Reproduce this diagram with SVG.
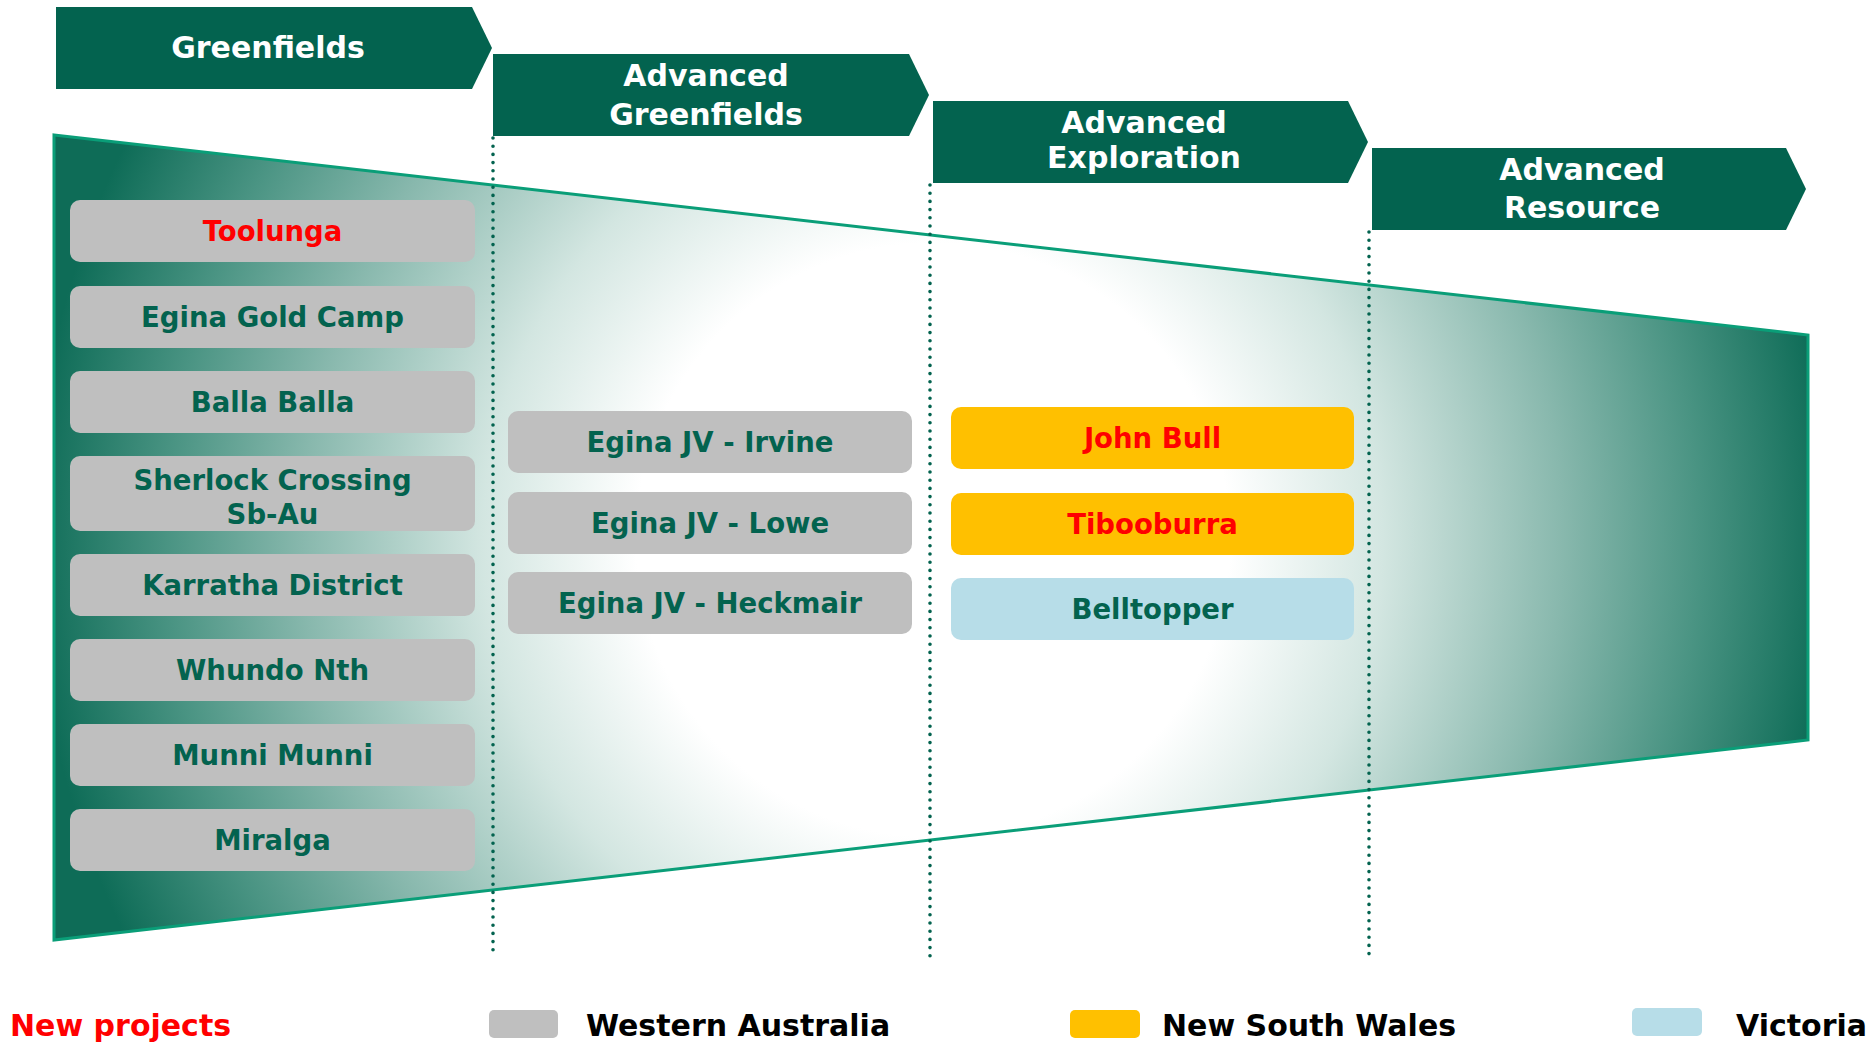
<svg xmlns="http://www.w3.org/2000/svg" width="1875" height="1043" viewBox="0 0 1875 1043">
<style>
  text { font-family: "DejaVu Sans", "Liberation Sans", sans-serif; font-weight: bold; text-anchor: middle; }
  .banner { fill: #03634F; }
  .bt { fill: #ffffff; font-size: 30px; }
  .box { rx: 10px; ry: 10px; }
  .wa { fill: #BFBFBF; }
  .nsw { fill: #FFC000; }
  .vic { fill: #B7DDE8; }
  .lbl { fill: #03634F; font-size: 27.5px; }
  .leg { fill: #000000; font-size: 30px; text-anchor: start; }
  .new { fill: #FF0000; }
  .div { stroke: #03634F; stroke-width: 3.6; stroke-linecap: round; stroke-dasharray: 0 8.2; fill: none; }
</style>
<defs>
  <radialGradient id="funnelGrad" gradientUnits="userSpaceOnUse" cx="933" cy="540" r="900">
    <stop offset="0" stop-color="#ffffff"/>
    <stop offset="0.33" stop-color="#ffffff"/>
    <stop offset="0.5" stop-color="#d3e6e1"/>
    <stop offset="0.7" stop-color="#88b8ad"/>
    <stop offset="0.85" stop-color="#4a9483"/>
    <stop offset="1" stop-color="#0e6c57"/>
  </radialGradient>
</defs>
<rect width="1875" height="1043" fill="#ffffff"/>

<g id="funnel">
  <polygon points="54,135 1808,335 1808,740 54,940" fill="url(#funnelGrad)" stroke="#0A9E78" stroke-width="3"/>
</g>

<g id="connectors">
  <line class="div" x1="493" y1="138" x2="493" y2="957"/>
  <line class="div" x1="930" y1="185" x2="930" y2="957"/>
  <line class="div" x1="1369" y1="232" x2="1369" y2="960"/>
</g>

<g id="banner-greenfields">
  <polygon class="banner" points="56,7 472,7 492,48 472,89 56,89"/>
  <text class="bt" x="268" y="58">Greenfields</text>
</g>
<g id="banner-advanced-greenfields">
  <polygon class="banner" points="493,54 909,54 929,95 909,136 493,136"/>
  <text class="bt" x="706" y="86">Advanced</text>
  <text class="bt" x="706" y="125">Greenfields</text>
</g>
<g id="banner-advanced-exploration">
  <polygon class="banner" points="933,101 1348,101 1368,142 1348,183 933,183"/>
  <text class="bt" x="1144" y="133">Advanced</text>
  <text class="bt" x="1144" y="168">Exploration</text>
</g>
<g id="banner-advanced-resource">
  <polygon class="banner" points="1372,148 1786,148 1806,189 1786,230 1372,230"/>
  <text class="bt" x="1582" y="180">Advanced</text>
  <text class="bt" x="1582" y="218">Resource</text>
</g>

<g id="node-toolunga">
  <rect class="box wa" x="70" y="200" width="405" height="62"/>
  <text class="lbl new" x="272.5" y="241">Toolunga</text>
</g>
<g id="node-egina-gold-camp">
  <rect class="box wa" x="70" y="286" width="405" height="62"/>
  <text class="lbl" x="272.5" y="327">Egina Gold Camp</text>
</g>
<g id="node-balla-balla">
  <rect class="box wa" x="70" y="371" width="405" height="62"/>
  <text class="lbl" x="272.5" y="412">Balla Balla</text>
</g>
<g id="node-sherlock-crossing">
  <rect class="box wa" x="70" y="456" width="405" height="75"/>
  <text class="lbl" x="272.5" y="490">Sherlock Crossing</text>
  <text class="lbl" x="272.5" y="524">Sb-Au</text>
</g>
<g id="node-karratha-district">
  <rect class="box wa" x="70" y="554" width="405" height="62"/>
  <text class="lbl" x="272.5" y="595">Karratha District</text>
</g>
<g id="node-whundo-nth">
  <rect class="box wa" x="70" y="639" width="405" height="62"/>
  <text class="lbl" x="272.5" y="680">Whundo Nth</text>
</g>
<g id="node-munni-munni">
  <rect class="box wa" x="70" y="724" width="405" height="62"/>
  <text class="lbl" x="272.5" y="765">Munni Munni</text>
</g>
<g id="node-miralga">
  <rect class="box wa" x="70" y="809" width="405" height="62"/>
  <text class="lbl" x="272.5" y="850">Miralga</text>
</g>

<g id="node-egina-jv-irvine">
  <rect class="box wa" x="508" y="411" width="404" height="62"/>
  <text class="lbl" x="710" y="452">Egina JV - Irvine</text>
</g>
<g id="node-egina-jv-lowe">
  <rect class="box wa" x="508" y="492" width="404" height="62"/>
  <text class="lbl" x="710" y="533">Egina JV - Lowe</text>
</g>
<g id="node-egina-jv-heckmair">
  <rect class="box wa" x="508" y="572" width="404" height="62"/>
  <text class="lbl" x="710" y="613">Egina JV - Heckmair</text>
</g>

<g id="node-john-bull">
  <rect class="box nsw" x="951" y="407" width="403" height="62"/>
  <text class="lbl new" x="1152.5" y="448">John Bull</text>
</g>
<g id="node-tibooburra">
  <rect class="box nsw" x="951" y="493" width="403" height="62"/>
  <text class="lbl new" x="1152.5" y="534">Tibooburra</text>
</g>
<g id="node-belltopper">
  <rect class="box vic" x="951" y="578" width="403" height="62"/>
  <text class="lbl" x="1152.5" y="619">Belltopper</text>
</g>

<g id="legend">
  <text class="leg new" x="10" y="1036">New projects</text>
  <rect class="wa" x="489" y="1010" width="69" height="28" rx="5"/>
  <text class="leg" x="586" y="1036">Western Australia</text>
  <rect class="nsw" x="1070" y="1010" width="70" height="28" rx="5"/>
  <text class="leg" x="1162" y="1036">New South Wales</text>
  <rect class="vic" x="1632" y="1008" width="70" height="28" rx="5"/>
  <text class="leg" x="1736" y="1036">Victoria</text>
</g>
</svg>
